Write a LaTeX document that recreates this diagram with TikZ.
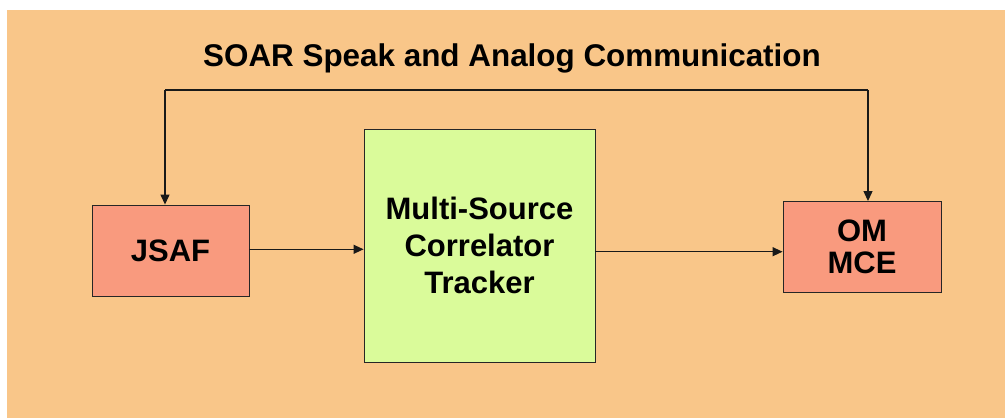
\documentclass[tikz,border=0pt]{standalone}
\usepackage{fontspec}
\setmainfont{Liberation Sans}
\usetikzlibrary{arrows.meta,calc}
\definecolor{bgorange}{RGB}{249,198,137}
\definecolor{salmon}{RGB}{249,154,126}
\definecolor{limegreen}{RGB}{218,251,154}
\tikzset{
  box/.style={draw=black!85, line width=0.9pt, inner sep=0pt, align=center,
    font=\fontsize{31}{37}\selectfont\bfseries},
  arr/.style={draw=black!90, line width=1.2pt, -{Triangle[length=10pt,width=9pt]}},
  ln/.style={draw=black!90, line width=1.2pt}
}
\begin{document}
\begin{tikzpicture}[x=1pt,y=-1pt]
\useasboundingbox (0,0) rectangle (1005,418);
\fill[bgorange] (7,10) rectangle (1005,418);
\node[font=\fontsize{31.4}{37}\selectfont\bfseries, anchor=base] (title) at (512,66) {SOAR Speak and Analog Communication};
\node[box, fill=salmon, minimum width=157pt, minimum height=91pt] (jsaf) at (170.5,250.5) {JSAF};
\node[box, fill=limegreen, minimum width=231pt, minimum height=233pt] (msct) at (479.5,245.5) {Multi-Source\\Correlator\\Tracker};
\node[box, fill=salmon, minimum width=158pt, minimum height=91pt, font=\fontsize{31}{32.6}\selectfont\bfseries] (om) at (862,247) {OM\\MCE};
\coordinate (tl) at (165,90);
\coordinate (tr) at (868,90);
\coordinate (a1) at (249,249.3);
\coordinate (a2) at (595,251.7);
\draw[arr] (a1) -- (a1 -| msct.west);
\draw[arr] (a2) -- (a2 -| om.west);
\draw[ln] (tl) -- (tr);
\draw[arr] (tl) -- (tl |- jsaf.north);
\draw[arr] (tr) -- (tr |- om.north);
\end{tikzpicture}
\end{document}
